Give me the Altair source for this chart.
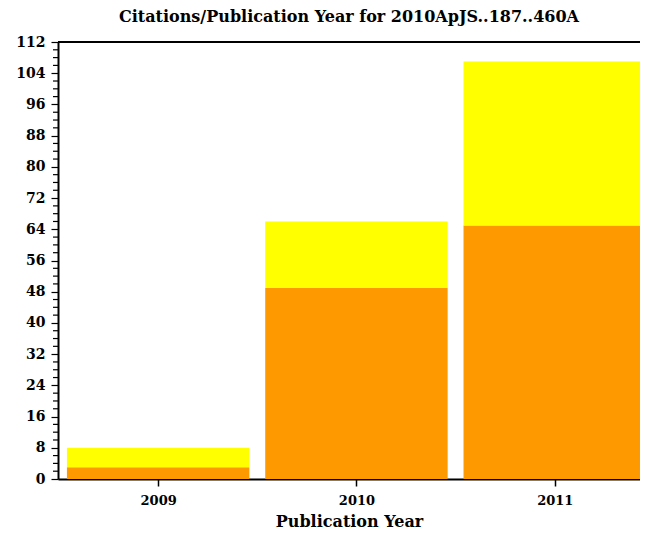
import altair as alt
import pandas as pd

years = [2009, 2010, 2011]
refereed = [3, 49, 65]
nonrefereed = [5, 17, 42]
series_names = ["Refereed", "Non-refereed"]
series_colors = ["#FF9900", "#FFFF00"]
major_ticks = list(range(0, 113, 8))
minor_ticks = [v for v in range(0, 113, 2) if v % 8 != 0]

rows = []
for i, yr in enumerate(years):
    rows.append({"year": yr, "series": series_names[0], "order": 0, "count": refereed[i]})
    rows.append({"year": yr, "series": series_names[1], "order": 1, "count": nonrefereed[i]})
df = pd.DataFrame(rows)

FONT = "DejaVu Serif"

xscale = alt.Scale(domain=[2008.495, 2011.43], nice=False, zero=False)
yscale = alt.Scale(domain=[0, 112], nice=False, zero=True)

y_axis = alt.Axis(values=major_ticks, grid=False, labelOverlap=False,
                  tickSize=7, tickColor="black", tickWidth=1.2,
                  domainColor="black", domainWidth=2, labelFont=FONT,
                  labelFontWeight="bold", labelFontSize=14,
                  labelColor="black", labelPadding=6)

bars = alt.Chart(df).transform_stack(
    stack="count", groupby=["year"], as_=["y0", "y1"],
    sort=[alt.SortField("order", order="ascending")]
).transform_calculate(
    x0="datum.year - 0.46", x1="datum.year + 0.46"
).mark_rect(clip=True).encode(
    x=alt.X("x0:Q", scale=xscale, title="Publication Year",
            axis=alt.Axis(values=years, format="d", grid=False, tickSize=7,
                          tickColor="black", tickWidth=1.5, domainColor="black",
                          domainWidth=2, labelFont=FONT, labelFontWeight="bold",
                          labelFontSize=13, labelColor="black", labelPadding=8,
                          titleFont=FONT, titleFontWeight="bold", titleFontSize=16,
                          titleColor="black", titlePadding=6)),
    x2="x1:Q",
    y=alt.Y("y0:Q", scale=yscale, title=None, axis=y_axis),
    y2="y1:Q",
    color=alt.Color("series:N", scale=alt.Scale(domain=series_names, range=series_colors), legend=None),
)

minor = alt.Chart(pd.DataFrame({"v": minor_ticks})).mark_rule(
    color="black", strokeWidth=1.2
).encode(
    y=alt.Y("v:Q", scale=yscale, title=None, axis=y_axis),
    x=alt.value(-5), x2=alt.value(0),
)

top_rule = alt.Chart(pd.DataFrame({"v": [112]})).mark_rule(color="black", strokeWidth=2).encode(
    y=alt.Y("v:Q", scale=yscale, title=None, axis=y_axis)
)

chart = alt.layer(bars, minor, top_rule).properties(
    width=582, height=437,
    title=alt.TitleParams("Citations/Publication Year for 2010ApJS..187..460A",
                          font=FONT, fontSize=16, fontWeight="bold", color="black",
                          offset=10, anchor="middle"),
    autosize=alt.AutoSizeParams(type="none"),
    padding={"left": 50, "top": 34, "right": 0, "bottom": 50},
).configure_view(stroke=None).configure(background="white")

chart.save("out.html", embed_options={"renderer": "svg", "actions": False})
